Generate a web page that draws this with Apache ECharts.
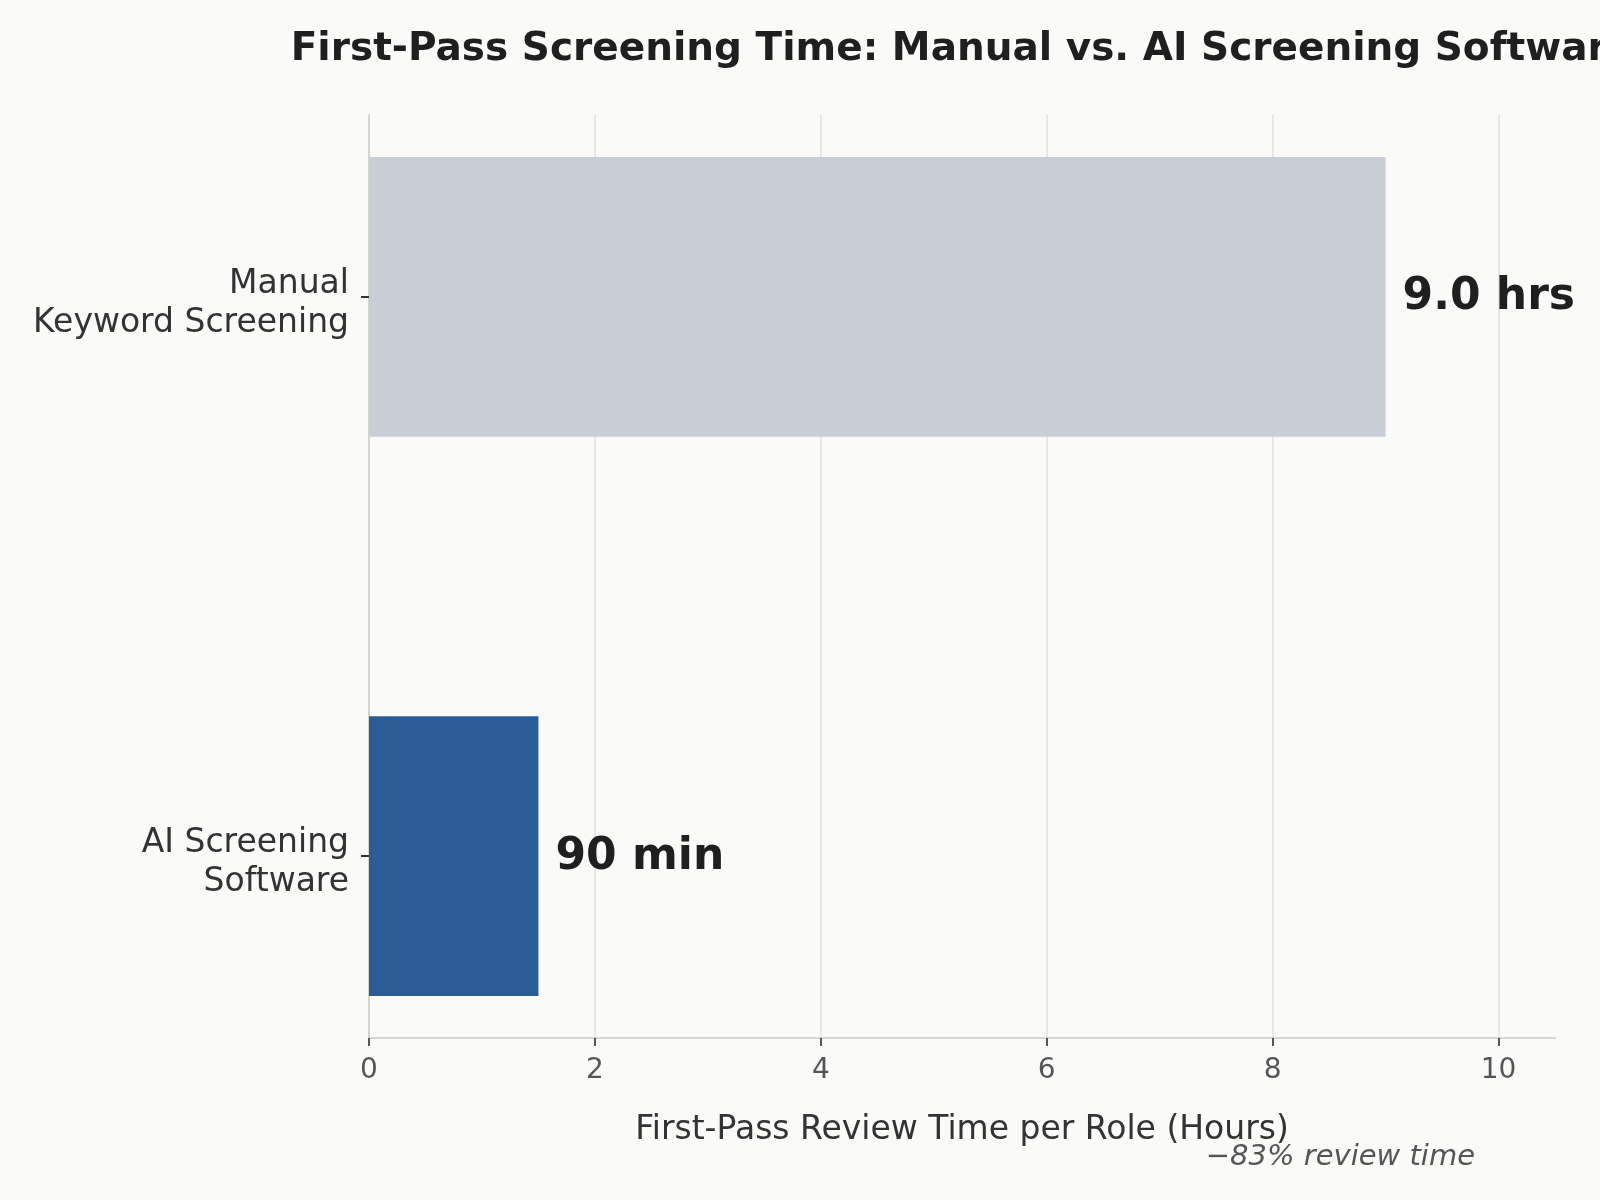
<!DOCTYPE html>
<html>
<head>
<meta charset="utf-8">
<script src="https://cdn.jsdelivr.net/npm/echarts@6/dist/echarts.min.js"></script>
<style>
  html, body { margin: 0; padding: 0; background: #FAFAF8; }
  #chart { width: 1600px; height: 1200px; }
</style>
</head>
<body>
<div id="chart"></div>
<script>
// data
const categories = ['Manual\nKeyword Screening', 'AI Screening\nSoftware'];
const hours = [9.0, 1.5];
const valueLabels = ['9.0 hrs', '90 min'];
const xTicks = [0, 2, 4, 6, 8, 10];
const rowPositions = [0, 1];

const barFill = ['#C8CDD6', '#2A5C96'];
const FONT = '"DejaVu Sans", sans-serif';

const chart = echarts.init(document.getElementById('chart'), null, { renderer: 'canvas' });

const option = {
  backgroundColor: '#FAFAF8',
  animation: false,
  grid: { left: 369, right: 45, top: 115, bottom: 162 },
  xAxis: {
    type: 'value',
    min: 0,
    max: 10.5,
    name: 'First-Pass Review Time per Role (Hours)',
    nameLocation: 'middle',
    nameGap: 76,
    nameTextStyle: { fontFamily: FONT, fontSize: 33, color: '#333333' },
    axisLine: { show: true, onZero: false, lineStyle: { color: '#D6D6D0', width: 2 } },
    axisTick: { show: true, length: 8, customValues: xTicks, lineStyle: { color: '#555555', width: 2 } },
    axisLabel: { customValues: xTicks, margin: 19, fontFamily: FONT, fontSize: 28, color: '#555555' },
    splitLine: { show: true, lineStyle: { color: '#E6E6E2', width: 2 } }
  },
  yAxis: {
    type: 'value',
    inverse: true,
    min: -0.325,
    max: 1.325,
    axisLine: { show: true, onZero: false, lineStyle: { color: '#D6D6D0', width: 2 } },
    axisTick: { show: true, length: 8, customValues: rowPositions, lineStyle: { color: '#333333', width: 2 } },
    axisLabel: {
      // labels sit a touch below the tick, like the two-line labels in the source
      customValues: rowPositions.map(p => p + 0.0125),
      margin: 20,
      fontFamily: FONT,
      fontSize: 33,
      lineHeight: 39,
      color: '#333333',
      align: 'right',
      formatter: v => categories[Math.round(v)]
    },
    splitLine: { show: false }
  },
  series: [{
    type: 'custom',
    data: hours.map((h, i) => [h, rowPositions[i]]),
    encode: { x: 0, y: 1 },
    renderItem: (params, api) => {
      const v = api.value(0);
      const y = api.value(1);
      const start = api.coord([0, y]);
      const end = api.coord([v, y]);
      const h = Math.abs(api.size([0, 0.5])[1]);
      return {
        type: 'group',
        children: [
          {
            type: 'rect',
            shape: { x: start[0], y: start[1] - h / 2, width: end[0] - start[0], height: h },
            style: { fill: barFill[params.dataIndex] }
          },
          {
            type: 'text',
            x: end[0] + 17,
            y: end[1] + 1,
            style: {
              text: valueLabels[params.dataIndex],
              font: 'bold 44px ' + FONT,
              fill: '#1F1F1F',
              verticalAlign: 'middle'
            }
          }
        ]
      };
    }
  }],
  graphic: [
    {
      type: 'text',
      x: 962,
      y: 50,
      style: {
        text: 'First-Pass Screening Time: Manual vs. AI Screening Software',
        font: 'bold 39px ' + FONT,
        fill: '#1F1F1F',
        align: 'center',
        verticalAlign: 'middle'
      }
    },
    {
      type: 'text',
      x: 1475,
      y: 1157,
      style: {
        text: '\u221283% review time',
        font: 'italic 29px ' + FONT,
        fill: '#555555',
        align: 'right',
        verticalAlign: 'middle'
      }
    }
  ]
};

chart.setOption(option);
</script>
</body>
</html>
